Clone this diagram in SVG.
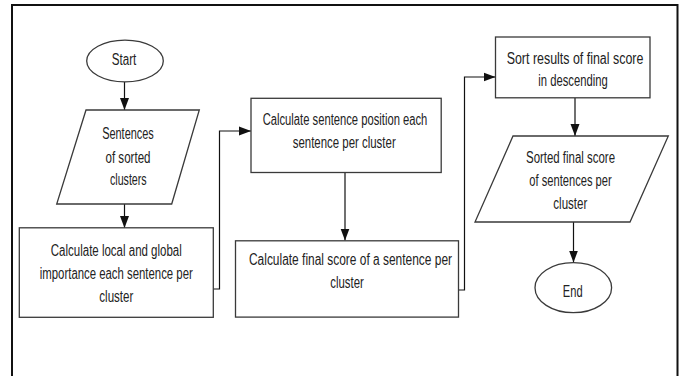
<svg xmlns="http://www.w3.org/2000/svg" width="685" height="376" viewBox="0 0 685 376">
<style>
  .shape { fill: #ffffff; stroke: #3a3a3a; stroke-width: 1.3; }
  .conn { fill: none; stroke: #111111; stroke-width: 1.2; marker-end: url(#arr); }
  .conn-plain { fill: none; stroke: #111111; stroke-width: 1.2; }
  text { font-family: "Liberation Sans", Arial, sans-serif; font-size: 16px; fill: #222222; text-anchor: middle; }
</style>
<defs>
  <marker id="arr" markerWidth="12" markerHeight="10" refX="12" refY="5" orient="auto" markerUnits="userSpaceOnUse">
    <path d="M0,0.5 L12,5 L0,9.5 z" fill="#111111"/>
  </marker>
</defs>
<rect x="0" y="0" width="685" height="376" fill="#ffffff"/>
<path d="M12,380 V5 H677.5 V380" fill="none" stroke="#111111" stroke-width="2"/>

<g id="connectors">
  <path class="conn" d="M124.5,82 V110"/>
  <path class="conn" d="M124.5,204 V228"/>
  <path class="conn" d="M213.5,289 H219.5 V131 H251"/>
  <path class="conn" d="M345,172.5 V240.5"/>
  <path class="conn" d="M458.5,290 H464.5 V77 H495.5"/>
  <path class="conn" d="M575,98 V136"/>
  <path class="conn" d="M573.5,222 V262.5"/>
</g>

<g id="start">
  <ellipse class="shape" cx="125" cy="61" rx="38.3" ry="20.8"/>
  <text x="124" y="65" textLength="24.5" lengthAdjust="spacingAndGlyphs">Start</text>
</g>

<g id="sentences-input">
  <polygon class="shape" points="86,110 199.3,110 171.7,204 56.7,204"/>
  <text x="128" y="139" textLength="51.7" lengthAdjust="spacingAndGlyphs">Sentences</text>
  <text x="128" y="162.5" textLength="45" lengthAdjust="spacingAndGlyphs">of sorted</text>
  <text x="128.3" y="185" textLength="36.7" lengthAdjust="spacingAndGlyphs">clusters</text>
</g>

<g id="local-global">
  <rect class="shape" x="19.3" y="227.8" width="194" height="89.5"/>
  <text x="116.3" y="255.5" textLength="131" lengthAdjust="spacingAndGlyphs">Calculate local and global</text>
  <text x="116.3" y="279" textLength="153" lengthAdjust="spacingAndGlyphs">importance each sentence per</text>
  <text x="116.3" y="302.3" textLength="34" lengthAdjust="spacingAndGlyphs">cluster</text>
</g>

<g id="sentence-position">
  <rect class="shape" x="251" y="98.3" width="190.2" height="74.2"/>
  <text x="345" y="125" textLength="164.7" lengthAdjust="spacingAndGlyphs">Calculate sentence position each</text>
  <text x="344.2" y="148.3" textLength="103" lengthAdjust="spacingAndGlyphs">sentence per cluster</text>
</g>

<g id="final-score">
  <rect class="shape" x="235.5" y="240.8" width="223" height="76.3"/>
  <text x="350.5" y="265" textLength="203" lengthAdjust="spacingAndGlyphs">Calculate final score of a sentence per</text>
  <text x="347" y="288.3" textLength="33.5" lengthAdjust="spacingAndGlyphs">cluster</text>
</g>

<g id="sort-results">
  <rect class="shape" x="495.5" y="37" width="154.5" height="60.8"/>
  <text x="575" y="64" textLength="136.7" lengthAdjust="spacingAndGlyphs">Sort results of final score</text>
  <text x="573" y="86" textLength="69.3" lengthAdjust="spacingAndGlyphs">in descending</text>
</g>

<g id="sorted-output">
  <polygon class="shape" points="513,136 668.3,136 630,222 475,222"/>
  <text x="570.5" y="162.5" textLength="89" lengthAdjust="spacingAndGlyphs">Sorted final score</text>
  <text x="570.5" y="185.5" textLength="82.3" lengthAdjust="spacingAndGlyphs">of sentences per</text>
  <text x="570.3" y="209" textLength="34" lengthAdjust="spacingAndGlyphs">cluster</text>
</g>

<g id="end">
  <ellipse class="shape" cx="573.3" cy="287.7" rx="38.3" ry="25"/>
  <text x="572.7" y="296.5" textLength="19.7" lengthAdjust="spacingAndGlyphs">End</text>
</g>
</svg>
